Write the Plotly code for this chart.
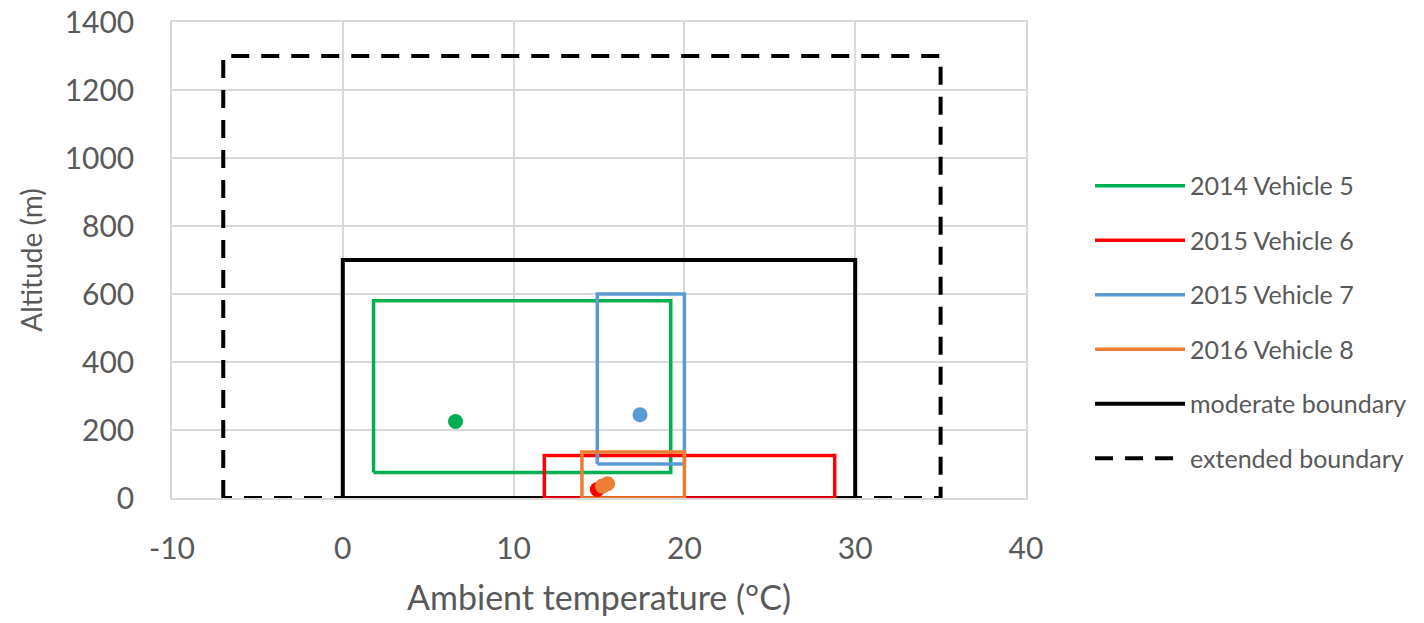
import plotly.graph_objects as go

# Data
names = ["2014 Vehicle 5", "2015 Vehicle 6", "2015 Vehicle 7", "2016 Vehicle 8",
         "moderate boundary", "extended boundary"]
colors = ["#00B050", "#FF0000", "#5B9BD5", "#ED7D31", "#000000", "#000000"]
box_xmin = [1.8, 11.8, 14.9, 14.0, 0, -7]
box_xmax = [19.2, 28.8, 20.0, 20.0, 30, 35]
box_ymin = [75, 0, 100, 0, 0, 0]
box_ymax = [580, 125, 600, 135, 700, 1300]

pt_x = [[6.6], [14.9], [17.4], [15.2, 15.5]]
pt_y = [[225], [25], [245], [35, 42]]

x_ticks = [-10, 0, 10, 20, 30, 40]
y_ticks = [0, 200, 400, 600, 800, 1000, 1200, 1400]

fig = go.Figure()

order = [5, 4, 0, 1, 2, 3]
for i in order:
    xs = [box_xmin[i], box_xmin[i], box_xmax[i], box_xmax[i], box_xmin[i]]
    ys = [box_ymin[i], box_ymax[i], box_ymax[i], box_ymin[i], box_ymin[i]]
    dash = "18px,12px" if i == 5 else "solid"
    w = 4 if i >= 4 else 3.5
    fig.add_trace(go.Scatter(x=xs, y=ys, mode="lines", name=names[i],
                             line=dict(color=colors[i], width=w, dash=dash),
                             legendgroup=names[i], legendrank=i + 1,
                             hoverinfo="skip"))

for i in range(4):
    fig.add_trace(go.Scatter(x=pt_x[i], y=pt_y[i], mode="markers",
                             marker=dict(color=colors[i], size=15),
                             showlegend=False, legendgroup=names[i]))

font = "Lato, 'Open Sans', sans-serif"
grey = "#595959"
fig.update_layout(
    width=1424, height=623,
    margin=dict(l=172, r=394, t=22, b=125),
    paper_bgcolor="white", plot_bgcolor="white",
    font=dict(family=font, color=grey),
    showlegend=True,
    legend=dict(x=1.075, y=0.37, xanchor="left", yanchor="middle",
                font=dict(size=25, color=grey, family=font),
                tracegroupgap=19, itemwidth=90, bgcolor="rgba(0,0,0,0)"),
    xaxis=dict(range=[-10, 40], tickvals=x_ticks, ticktext=[str(v) for v in x_ticks],
               showgrid=True, gridcolor="#d9d9d9", gridwidth=1.5,
               zeroline=False, showline=True, linecolor="#d9d9d9", linewidth=1.5, mirror=True,
               tickfont=dict(size=30, color=grey), ticklen=0, ticks="",
               ticklabelstandoff=23, automargin=False, ticklabeloverflow="allow",
               title=dict(text="Ambient temperature (°C)", font=dict(size=34, color=grey), standoff=22)),
    yaxis=dict(range=[0, 1400], tickvals=y_ticks, ticktext=[str(v) for v in y_ticks],
               showgrid=True, gridcolor="#d9d9d9", gridwidth=1.5,
               zeroline=False, showline=True, linecolor="#d9d9d9", linewidth=1.5, mirror=True,
               tickfont=dict(size=30, color=grey), ticks="", ticklen=0,
               ticklabelstandoff=30, automargin=False, ticklabeloverflow="allow",
               title=dict(text="Altitude (m)", font=dict(size=28, color=grey), standoff=14)),
)

fig.write_html("out.html")
